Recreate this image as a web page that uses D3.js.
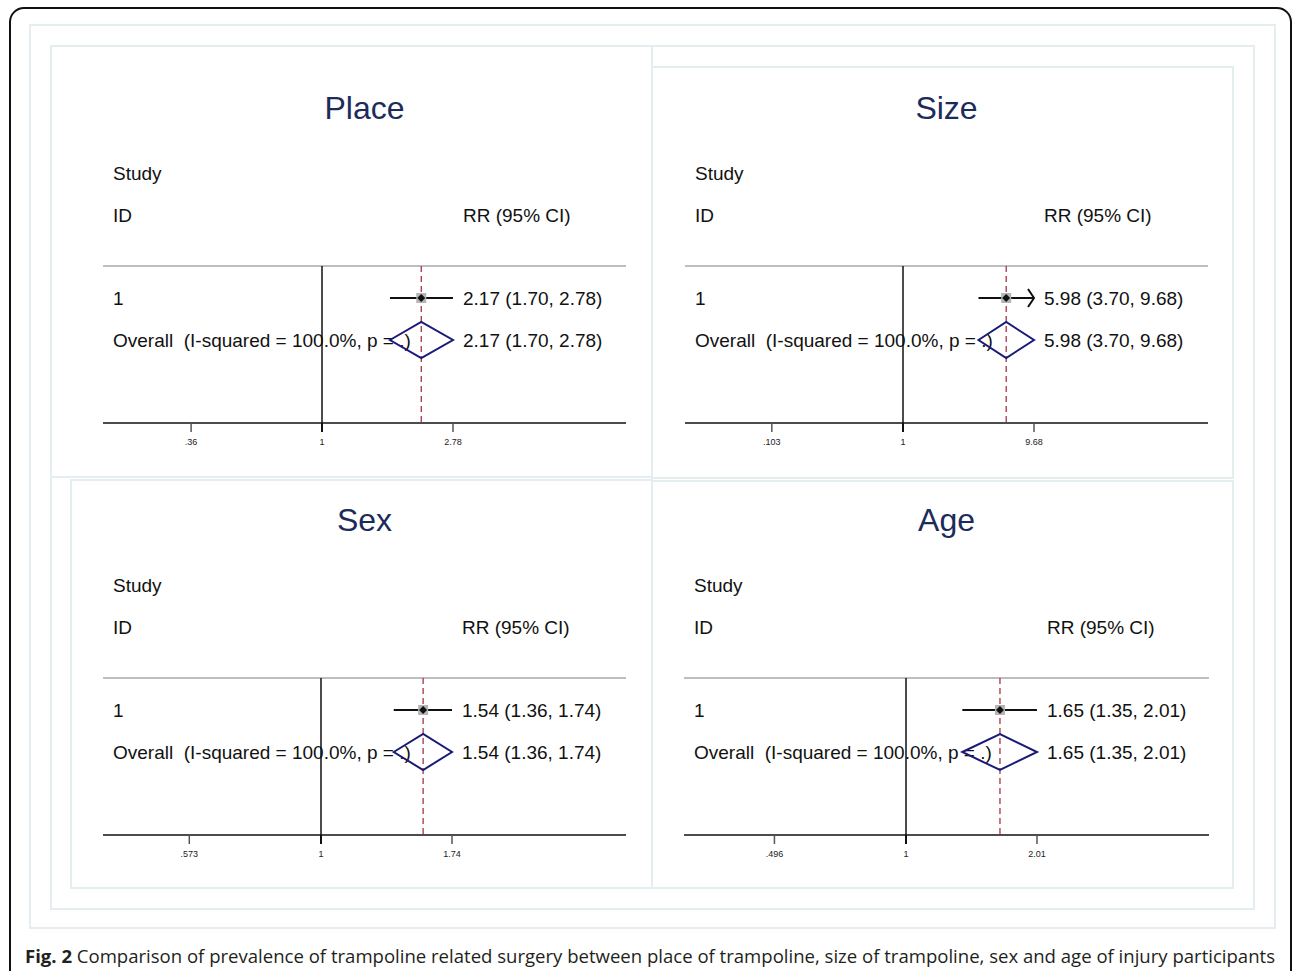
<!DOCTYPE html>
<html>
<head>
<meta charset="utf-8">
<script src="https://cdn.jsdelivr.net/npm/d3@7"></script>
<style>
  html, body { margin: 0; padding: 0; background: #fff; }
  svg { display: block; }
  text { white-space: pre; }
</style>
</head>
<body>
<div id="chart"></div>
<script>
// ---- data ----
const panelTitles = ["Place", "Size", "Sex", "Age"];
const studyIds = ["1"];
const estimates = [2.17, 5.98, 1.54, 1.65];
const lowerCI = [1.70, 3.70, 1.36, 1.35];
const upperCI = [2.78, 9.68, 1.74, 2.01];
const clippedHigh = [false, true, false, false];
const tickValues = [[0.36, 1, 2.78], [0.103, 1, 9.68], [0.573, 1, 1.74], [0.496, 1, 2.01]];
const tickLabels = [[".36", "1", "2.78"], [".103", "1", "9.68"], [".573", "1", "1.74"], [".496", "1", "2.01"]];
const overallLabel = "Overall  (I-squared = 100.0%, p = .)";
const effectHeader = "RR (95% CI)";
const captionBold = "Fig. 2";
const captionText = " Comparison of prevalence of trampoline related surgery between place of trampoline, size of trampoline, sex and age of injury participants";

// ---- layout ----
const W = 1292, H = 971;
const frames = [
  { x: 51, y: 46, w: 601, h: 431 },
  { x: 652, y: 67, w: 581, h: 411 },
  { x: 71, y: 480, w: 581, h: 408 },
  { x: 652, y: 481, w: 581, h: 407 }
];
// content origin per panel: left text x, ends of the rule lines, null line x, vertical offset
const content = [
  { tx: 113, l: 103, r: 626, nullX: 322, dy: 0 },
  { tx: 695, l: 685, r: 1208, nullX: 903, dy: 0 },
  { tx: 113, l: 103, r: 626, nullX: 321, dy: 412 },
  { tx: 694, l: 684, r: 1209, nullX: 906, dy: 412 }
];
const halfSpan = 131;

const svg = d3.select("#chart").append("svg")
  .attr("width", W).attr("height", H)
  .style("font-family", "'Liberation Sans', Arial, sans-serif");

// outer journal frame
svg.append("rect")
  .attr("x", 10).attr("y", 8).attr("width", 1281).attr("height", 1010)
  .attr("rx", 14)
  .attr("fill", "none").attr("stroke", "#111").attr("stroke-width", 2);

const boxStroke = "#e4eef1";
svg.append("rect").attr("x", 30).attr("y", 25).attr("width", 1245).attr("height", 903)
  .attr("fill", "none").attr("stroke", boxStroke).attr("stroke-width", 2);
svg.append("rect").attr("x", 51).attr("y", 46).attr("width", 1203).attr("height", 863)
  .attr("fill", "none").attr("stroke", boxStroke).attr("stroke-width", 2);

frames.forEach(f => {
  svg.append("rect").attr("x", f.x).attr("y", f.y).attr("width", f.w).attr("height", f.h)
    .attr("fill", "none").attr("stroke", boxStroke).attr("stroke-width", 2);
});

panelTitles.forEach((title, i) => {
  const c = content[i];
  const g = svg.append("g").attr("transform", `translate(0,${c.dy})`);
  const T = tickValues[i][2];
  const x = d3.scaleLog().domain([1 / T, T]).range([c.nullX - halfSpan, c.nullX + halfSpan]);
  const rightX = x(T) + 10;
  const yTop = 266, yRow = 298, yOverall = 340, yAxis = 423;

  // title
  g.append("text")
    .attr("x", (c.l + c.r) / 2).attr("y", 108)
    .attr("text-anchor", "middle").attr("dominant-baseline", "central")
    .attr("font-size", 32).attr("fill", "#1c2c5a")
    .text(title);

  const label = (tx, ty, s) => g.append("text")
    .attr("x", tx).attr("y", ty)
    .attr("dominant-baseline", "central")
    .attr("font-size", 19).attr("fill", "#111")
    .text(s);

  label(c.tx, 173, "Study");
  label(c.tx, 215, "ID");
  label(rightX, 215, effectHeader);

  // top rule
  g.append("line").attr("x1", c.l).attr("x2", c.r).attr("y1", yTop).attr("y2", yTop)
    .attr("stroke", "#a8a8a8").attr("stroke-width", 1.5);

  // null line
  g.append("line").attr("x1", x(1)).attr("x2", x(1)).attr("y1", yTop).attr("y2", yAxis)
    .attr("stroke", "#111").attr("stroke-width", 1.5);

  // overall effect dashed line
  g.append("line").attr("x1", x(estimates[i])).attr("x2", x(estimates[i]))
    .attr("y1", yTop).attr("y2", yAxis)
    .attr("stroke", "#a33545").attr("stroke-width", 1.3).attr("stroke-dasharray", "6,4");

  // axis
  const axis = g.append("g").attr("transform", `translate(0,${yAxis})`);
  axis.append("line").attr("x1", c.l).attr("x2", c.r)
    .attr("stroke", "#111").attr("stroke-width", 1.5);
  tickValues[i].forEach((t, k) => {
    axis.append("line").attr("x1", x(t)).attr("x2", x(t)).attr("y1", 0).attr("y2", 9)
      .attr("stroke", t === 1 ? "#111" : "#555").attr("stroke-width", t === 1 ? 2 : 1.5);
    axis.append("text").attr("x", x(t)).attr("y", 19)
      .attr("text-anchor", "middle").attr("dominant-baseline", "central")
      .attr("font-size", 9).attr("fill", "#222")
      .text(tickLabels[i][k]);
  });

  // study row
  studyIds.forEach(id => {
    label(c.tx, yRow, id);
    const x2 = x(upperCI[i]);
    g.append("line").attr("x1", x(lowerCI[i])).attr("x2", x2).attr("y1", yRow).attr("y2", yRow)
      .attr("stroke", "#111").attr("stroke-width", 2);
    if (clippedHigh[i]) {
      g.append("path")
        .attr("d", `M${x2 - 6},${yRow - 9}L${x2},${yRow}L${x2 - 6},${yRow + 9}`)
        .attr("fill", "none").attr("stroke", "#111").attr("stroke-width", 2);
    }
    const cx = x(estimates[i]);
    g.append("rect").attr("x", cx - 5).attr("y", yRow - 5).attr("width", 10).attr("height", 10)
      .attr("fill", "#b5b5b5");
    g.append("path")
      .attr("d", `M${cx},${yRow - 4}L${cx + 4},${yRow}L${cx},${yRow + 4}L${cx - 4},${yRow}Z`)
      .attr("fill", "#111");
    label(rightX, yRow, `${estimates[i].toFixed(2)} (${lowerCI[i].toFixed(2)}, ${upperCI[i].toFixed(2)})`);
  });

  // overall row
  label(c.tx, yOverall, overallLabel);
  const ex = x(estimates[i]), lx = x(lowerCI[i]), ux = x(upperCI[i]);
  g.append("path")
    .attr("d", `M${lx},${yOverall}L${ex},${yOverall - 18}L${ux},${yOverall}L${ex},${yOverall + 18}Z`)
    .attr("fill", "none").attr("stroke", "#1a1a78").attr("stroke-width", 2);
  label(rightX, yOverall, `${estimates[i].toFixed(2)} (${lowerCI[i].toFixed(2)}, ${upperCI[i].toFixed(2)})`);
});

// caption
const cap = svg.append("text")
  .attr("x", 25).attr("y", 955)
  .attr("dominant-baseline", "central")
  .attr("font-family", "'Open Sans', 'Noto Sans', sans-serif")
  .attr("font-size", 18.5).attr("fill", "#231f20")
  .attr("textLength", 1250).attr("lengthAdjust", "spacingAndGlyphs");
cap.append("tspan").attr("font-weight", "bold").text(captionBold);
cap.append("tspan").text(captionText);
</script>
</body>
</html>
